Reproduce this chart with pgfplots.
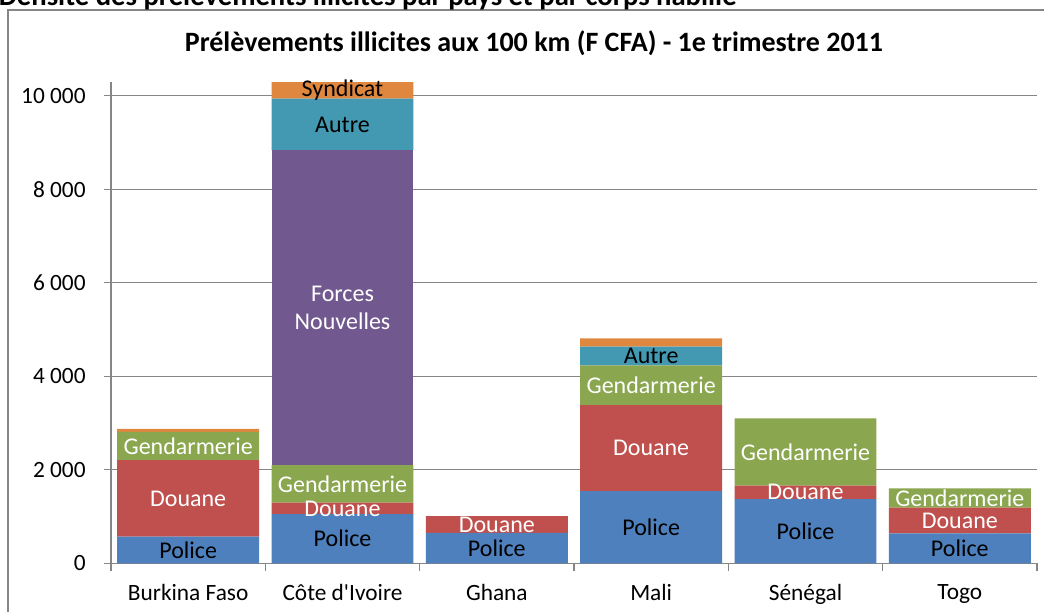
\documentclass[border=0pt]{standalone}
\usepackage{pgfplots}
\pgfplotsset{compat=1.18}
\usepackage{fontspec}
\setmainfont{Carlito}
\newfontfamily\apfont{Carlito}[Ligatures=TeXOff]
\definecolor{cPol}{RGB}{78,128,189}
\definecolor{cDou}{RGB}{192,80,77}
\definecolor{cGen}{RGB}{138,166,78}
\definecolor{cFN}{RGB}{113,89,143}
\definecolor{cAut}{RGB}{66,153,177}
\definecolor{cSyn}{RGB}{224,135,63}
\definecolor{cAx}{RGB}{134,134,134}
\expandafter\def\csname labP\endcsname{Police}
\expandafter\def\csname labD\endcsname{Douane}
\expandafter\def\csname labG\endcsname{Gendarmerie}
\expandafter\def\csname labF\endcsname{Forces\\Nouvelles}
\expandafter\def\csname labA\endcsname{Autre}
\expandafter\def\csname labS\endcsname{Syndicat}
\expandafter\def\csname labN\endcsname{}
\begin{document}
\begin{tikzpicture}
\useasboundingbox (0,0) rectangle (783pt,-458.25pt);
\begin{scope}
\clip (0,0) rectangle (783pt,-458.25pt);
\draw[cAx, line width=1pt] (6pt,-7.5pt) rectangle (800pt,-480pt);
\node[anchor=base west, font=\bfseries\fontsize{21.5}{24}\selectfont, inner sep=0pt] at (-1pt,-3.75pt) {Densité des prélèvements illicites par pays et par corps habillé};
\end{scope}
\node[font=\bfseries\fontsize{21}{24}\selectfont] at (400.5pt,-32.25pt) {Prélèvements illicites aux 100 km (F CFA) - 1e trimestre 2011};
\begin{axis}[
  at={(83.25pt,-422.5pt)}, anchor=south west,
  scale only axis, width=694.5pt, height=360.9pt,
  ybar stacked, bar width=0.92,
  xmin=-0.5, xmax=5.5, ymin=0, ymax=10290,
  axis x line*=bottom, axis y line*=left,
  axis line style={cAx, line width=1.2pt, -},
  xtick={-0.5,0.5,...,5.5},
  xticklabels={},
  extra x ticks={0,1,2,3,4,5},
  extra x tick labels={Burkina Faso,Côte d{\apfont'}Ivoire,Ghana,Mali,Sénégal,Togo},
  extra x tick style={major tick length=0pt},
  xticklabel style={yshift=-12pt},
  yticklabel style={xshift=-10pt},
  ytick={0,2000,...,10000},
  scaled y ticks=false,
  tick style={cAx, line width=1pt},
  tick align=outside,
  major tick length=5.5pt,
  ymajorgrids, grid style={cAx, line width=0.9pt},
  ticklabel style={font=\fontsize{17.5}{20}\selectfont, text=black},
  /pgf/number format/assume math mode=true,
  /pgf/number format/1000 sep={\ },
  point meta=explicit symbolic,
  nodes near coords={\csname lab\pgfplotspointmeta\endcsname},
  visualization depends on=rawy \as \rawy,
  every node near coord/.append style={anchor=center, align=center, font=\fontsize{18}{21}\selectfont, inner sep=0pt},
]
\addplot[fill=cPol, draw=none, every node near coord/.append style={text=black}] coordinates {(0,569) [P] (1,1054) [P] (2,654) [P] (3,1546) [P] (4,1375) [P] (5,640) [P]};
\addplot[fill=cDou, draw=none, every node near coord/.append style={text=white}] coordinates {(0,1640) [D] (1,242) [D] (2,358) [D] (3,1840) [D] (4,285) [D] (5,550) [D]};
\addplot[fill=cGen, draw=none, every node near coord/.append style={text=white}] coordinates {(0,600) [G] (1,806) [G] (2,0) [N] (3,848) [G] (4,1440) [G] (5,414) [G]};
\addplot[fill=cFN, draw=none, every node near coord/.append style={text=white}] coordinates {(0,0) [N] (1,6729) [F] (2,0) [N] (3,0) [N] (4,0) [N] (5,0) [N]};
\addplot[fill=cAut, draw=none, every node near coord/.append style={text=black}] coordinates {(0,0) [N] (1,1105) [A] (2,0) [N] (3,399) [A] (4,0) [N] (5,0) [N]};
\addplot[fill=cSyn, draw=none, every node near coord/.append style={text=black}] coordinates {(0,65) [N] (1,354) [S] (2,0) [N] (3,179) [N] (4,0) [N] (5,0) [N]};
\end{axis}
\end{tikzpicture}
\end{document}
